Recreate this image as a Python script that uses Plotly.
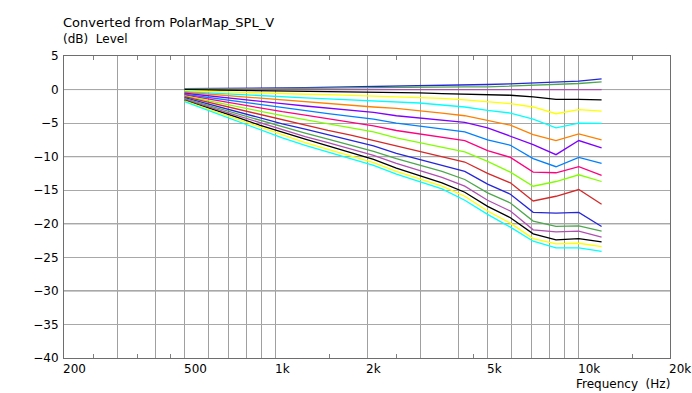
import math
import plotly.graph_objects as go

freq_hz = [500, 625, 743, 884, 1051, 1250, 1487, 1768, 2102, 2500, 2973, 3536,
           4204, 5000, 5946, 7071, 8409, 10000, 11892]

spl_01 = [0.15, 0.15, 0.2, 0.2, 0.25, 0.3, 0.35, 0.4, 0.45, 0.45, 0.5, 0.6, 0.7, 0.75, 0.85, 1.0, 1.15, 1.25, 1.6]
spl_02 = [0.1, 0.1, 0.1, 0.15, 0.15, 0.2, 0.2, 0.25, 0.3, 0.3, 0.3, 0.35, 0.4, 0.4, 0.5, 0.65, 0.8, 0.9, 1.15]
spl_03 = [0.0] * 19
spl_04 = [0.0, -0.05, -0.1, -0.15, -0.2, -0.25, -0.3, -0.35, -0.4, -0.45, -0.5, -0.6, -0.7, -0.75, -0.85, -1.1, -1.45, -1.45, -1.55]
spl_05 = [-0.15, -0.3, -0.4, -0.5, -0.6, -0.7, -0.75, -0.85, -0.9, -1.0, -1.1, -1.3, -1.55, -1.8, -2.1, -2.6, -3.6, -3.0, -3.2]
spl_06 = [-0.3, -0.55, -0.75, -0.95, -1.1, -1.25, -1.4, -1.55, -1.7, -1.85, -2.0, -2.3, -2.6, -3.1, -3.5, -4.4, -5.7, -5.0, -5.05]
spl_07 = [-0.4, -0.75, -1.05, -1.35, -1.6, -1.85, -2.1, -2.35, -2.6, -2.8, -3.1, -3.5, -3.9, -4.6, -5.3, -6.7, -7.6, -6.6, -7.5]
spl_08 = [-0.55, -1.05, -1.4, -1.75, -2.1, -2.45, -2.8, -3.1, -3.4, -3.9, -4.2, -4.5, -4.9, -5.7, -6.9, -8.2, -9.7, -7.6, -8.7]
spl_09 = [-0.7, -1.3, -1.75, -2.25, -2.7, -3.1, -3.6, -4.0, -4.4, -5.0, -5.4, -5.8, -6.3, -7.5, -8.3, -10.3, -11.5, -10.1, -11.0]
spl_10 = [-0.8, -1.55, -2.15, -2.75, -3.3, -3.8, -4.3, -4.9, -5.4, -6.1, -6.6, -7.1, -7.6, -9.1, -10.1, -12.3, -12.4, -11.5, -12.8]
spl_11 = [-0.95, -1.8, -2.5, -3.2, -3.9, -4.5, -5.1, -5.7, -6.3, -7.2, -7.9, -8.6, -9.3, -10.7, -12.3, -14.4, -13.7, -12.7, -13.7]
spl_12 = [-1.05, -2.1, -2.9, -3.7, -4.5, -5.3, -6.1, -6.8, -7.6, -8.5, -9.2, -10.0, -10.8, -12.5, -13.9, -16.6, -15.9, -14.9, -17.1]
spl_13 = [-1.2, -2.4, -3.3, -4.2, -5.1, -5.9, -6.7, -7.6, -8.4, -9.5, -10.4, -11.2, -12.2, -14.1, -15.6, -18.3, -18.4, -18.3, -20.4]
spl_14 = [-1.35, -2.6, -3.6, -4.6, -5.6, -6.5, -7.4, -8.3, -9.2, -10.3, -11.2, -12.2, -13.4, -15.4, -16.9, -19.6, -20.4, -20.3, -21.1]
spl_15 = [-1.45, -2.8, -3.85, -4.95, -6.0, -7.0, -7.9, -8.9, -9.8, -11.0, -12.0, -13.1, -14.4, -16.5, -18.1, -20.9, -21.2, -21.1, -22.0]
spl_16 = [-1.6, -3.0, -4.1, -5.3, -6.4, -7.4, -8.4, -9.4, -10.4, -11.7, -12.8, -13.9, -15.3, -17.4, -19.1, -21.5, -22.4, -22.2, -22.7]
spl_17 = [-1.7, -3.2, -4.4, -5.6, -6.8, -7.9, -8.9, -9.9, -10.9, -12.2, -13.3, -14.4, -15.9, -18.1, -19.9, -22.2, -23.0, -22.9, -23.4]
spl_18 = [-1.8, -3.4, -4.7, -6.0, -7.2, -8.3, -9.3, -10.3, -11.3, -12.6, -13.7, -14.8, -16.5, -18.6, -20.5, -22.6, -23.6, -23.6, -24.1]

series = [spl_01, spl_02, spl_03, spl_04, spl_05, spl_06, spl_07, spl_08, spl_09,
          spl_10, spl_11, spl_12, spl_13, spl_14, spl_15, spl_16, spl_17, spl_18]

palette = ["#2626d9", "#4ea64e", "#b050b0", "#000000", "#ffff00", "#00ffff",
           "#ff8000", "#8000ff", "#0080ff", "#ff0080", "#80ff00", "#d42a2a"]

x_tick_vals = [200, 500, 1000, 2000, 5000, 10000, 20000]
x_tick_text = ["200", "500", "1k", "2k", "5k", "10k", "20k"]
x_grid_vals = [200, 300, 400, 500, 600, 700, 800, 900, 1000, 2000, 3000, 4000,
               5000, 6000, 7000, 8000, 9000, 10000, 20000]
x_minor_vals = [250, 350, 450, 1500, 2500, 4500, 15000]
x_dark_vals = [1000, 10000]
y_tick_vals = [5, 0, -5, -10, -15, -20, -25, -30, -35, -40]
y_dark_vals = [0, -10, -20, -30]

FONT = "DejaVu Sans"
TXT = dict(family=FONT, size=12, color="#000000")
fig = go.Figure()

for i, s in enumerate(series):
    fig.add_trace(go.Scatter(
        x=freq_hz, y=s, mode="lines",
        line=dict(color=palette[i % len(palette)], width=1.3),
        showlegend=False, hoverinfo="skip"))

shapes = []
for v in y_dark_vals:
    shapes.append(dict(type="line", xref="paper", x0=0, x1=1, yref="y", y0=v, y1=v,
                       line=dict(color="#6e6e6e", width=1), layer="below"))
for v in x_dark_vals:
    shapes.append(dict(type="line", yref="paper", y0=0, y1=1, xref="x",
                       x0=math.log10(v), x1=math.log10(v),
                       line=dict(color="#6e6e6e", width=1), layer="below"))

annotations = []
for v, t in zip(x_tick_vals, x_tick_text):
    annotations.append(dict(x=math.log10(v), xref="x", y=0, yref="paper",
                            text=t, showarrow=False, xanchor="left", yanchor="top",
                            yshift=-2, xshift=-3, font=TXT))
annotations.append(dict(x=1, xref="paper", y=0, yref="paper",
                        text="Frequency\u00a0 (Hz)", showarrow=False, xanchor="right",
                        yanchor="top", yshift=-17, xshift=2, font=TXT))
annotations.append(dict(x=0, xref="paper", y=1, yref="paper",
                        text="Converted from PolarMap_SPL_V", showarrow=False,
                        xanchor="left", yanchor="middle", yshift=34, xshift=-3,
                        font=dict(family=FONT, size=13, color="#000000")))
annotations.append(dict(x=0, xref="paper", y=1, yref="paper",
                        text="(dB)\u00a0 Level", showarrow=False,
                        xanchor="left", yanchor="middle", yshift=17, xshift=-3,
                        font=TXT))

fig.update_layout(
    width=692, height=393,
    margin=dict(l=64, r=22, t=56, b=35),
    paper_bgcolor="white", plot_bgcolor="white",
    font=TXT,
    shapes=shapes, annotations=annotations,
    xaxis=dict(
        type="log", range=[math.log10(200), math.log10(20000)],
        tickmode="array", tickvals=x_grid_vals, ticktext=[""] * len(x_grid_vals),
        showgrid=True, gridcolor="#a0a0a0", gridwidth=1,
        showline=True, linecolor="#6e6e6e", linewidth=1, mirror="ticks",
        ticks="", zeroline=False,
        minor=dict(tickmode="array", tickvals=x_minor_vals, ticks="inside",
                   ticklen=4, tickcolor="#808080", tickwidth=1, showgrid=False),
    ),
    yaxis=dict(
        range=[-40, 5], tickmode="array", tickvals=y_tick_vals,
        showgrid=True, gridcolor="#a8a8a8", gridwidth=1,
        showline=True, linecolor="#6e6e6e", linewidth=1, mirror=True,
        ticks="", zeroline=False, ticklabelstandoff=2,
        tickfont=TXT,
    ),
)

fig.write_html(
    "out.html",
    config={"displayModeBar": False},
    post_script="document.body.style.margin='0';document.body.style.overflow='hidden';",
)
